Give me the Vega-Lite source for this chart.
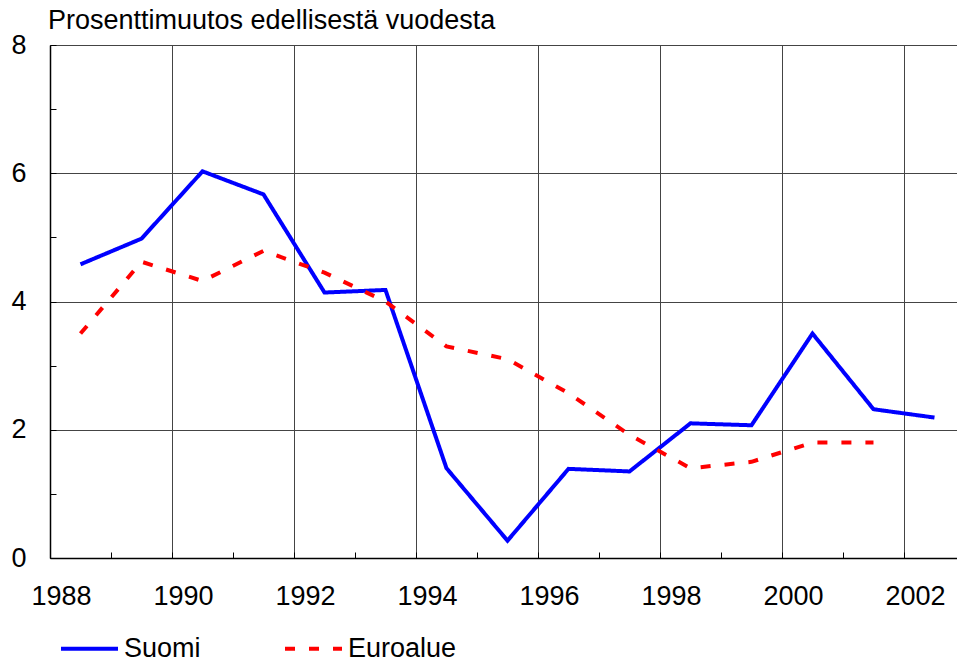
{
  "$schema": "https://vega.github.io/schema/vega-lite/v6.json",
  "width": 907,
  "height": 513,
  "autosize": {"type": "none"},
  "padding": {"left": 50, "top": 45, "right": 0, "bottom": 106},
  "background": "white",
  "config": {
    "view": {"stroke": null},
    "font": "Liberation Sans",
    "title": {"font": "Liberation Sans"},
    "axis": {"labelFont": "Liberation Sans"},
    "legend": {"labelFont": "Liberation Sans"}
  },
  "title": {
    "text": "Prosenttimuutos edellisestä vuodesta",
    "anchor": "start",
    "frame": "group",
    "fontSize": 27,
    "fontWeight": "normal",
    "color": "#000000",
    "baseline": "alphabetic",
    "offset": 0,
    "dy": 25,
    "dx": -2
  },
  "data": {
    "values": [
      {"year": 1988, "value": 4.58, "series": "Suomi"},
      {"year": 1989, "value": 4.98, "series": "Suomi"},
      {"year": 1990, "value": 6.03, "series": "Suomi"},
      {"year": 1991, "value": 5.67, "series": "Suomi"},
      {"year": 1992, "value": 4.14, "series": "Suomi"},
      {"year": 1993, "value": 4.18, "series": "Suomi"},
      {"year": 1994, "value": 1.40, "series": "Suomi"},
      {"year": 1995, "value": 0.27, "series": "Suomi"},
      {"year": 1996, "value": 1.39, "series": "Suomi"},
      {"year": 1997, "value": 1.35, "series": "Suomi"},
      {"year": 1998, "value": 2.10, "series": "Suomi"},
      {"year": 1999, "value": 2.07, "series": "Suomi"},
      {"year": 2000, "value": 3.50, "series": "Suomi"},
      {"year": 2001, "value": 2.32, "series": "Suomi"},
      {"year": 2002, "value": 2.19, "series": "Suomi"},
      {"year": 1988, "value": 3.5, "series": "Euroalue"},
      {"year": 1989, "value": 4.62, "series": "Euroalue"},
      {"year": 1990, "value": 4.32, "series": "Euroalue"},
      {"year": 1991, "value": 4.79, "series": "Euroalue"},
      {"year": 1992, "value": 4.45, "series": "Euroalue"},
      {"year": 1993, "value": 4.0, "series": "Euroalue"},
      {"year": 1994, "value": 3.3, "series": "Euroalue"},
      {"year": 1995, "value": 3.1, "series": "Euroalue"},
      {"year": 1996, "value": 2.57, "series": "Euroalue"},
      {"year": 1997, "value": 1.92, "series": "Euroalue"},
      {"year": 1998, "value": 1.4, "series": "Euroalue"},
      {"year": 1999, "value": 1.5, "series": "Euroalue"},
      {"year": 2000, "value": 1.8, "series": "Euroalue"},
      {"year": 2001, "value": 1.8, "series": "Euroalue"}
    ]
  },
  "mark": {"type": "line", "strokeWidth": 4, "strokeCap": "butt", "clip": true},
  "encoding": {
    "x": {
      "field": "year",
      "type": "quantitative",
      "scale": {"domain": [1987.5, 2002.369], "nice": false, "zero": false},
      "axis": {
        "title": null,
        "values": [1987.5, 1988.5, 1989.5, 1990.5, 1991.5, 1992.5, 1993.5, 1994.5, 1995.5, 1996.5, 1997.5, 1998.5, 1999.5, 2000.5, 2001.5],
        "grid": true,
        "gridColor": {"condition": {"test": "(datum.value - 1987.5) % 2 === 0", "value": "#444444"}, "value": "rgba(0,0,0,0)"},
        "gridWidth": 1,
        "labelExpr": "(datum.value - 1987.5) % 2 === 0 ? toString(datum.value + 0.5) : ''",
        "labelOffset": 11,
        "labelFontSize": 27,
        "labelColor": "#000000",
        "labelPadding": 31,
        "labelFlush": false,
        "labelOverlap": false,
        "tickSize": -6,
        "tickColor": "#000000",
        "domainColor": "#000000",
        "domainWidth": 1.5
      }
    },
    "y": {
      "field": "value",
      "type": "quantitative",
      "scale": {"domain": [0, 8], "nice": false, "zero": true},
      "axis": {
        "title": null,
        "values": [0, 1, 2, 3, 4, 5, 6, 7, 8],
        "grid": true,
        "gridColor": {"condition": {"test": "datum.value % 2 === 0", "value": "#444444"}, "value": "rgba(0,0,0,0)"},
        "gridWidth": 1,
        "labelExpr": "datum.value % 2 === 0 ? toString(datum.value) : ''",
        "labelFontSize": 27,
        "labelColor": "#000000",
        "labelPadding": 30,
        "labelFlush": false,
        "labelOverlap": false,
        "tickSize": -6,
        "tickColor": "#000000",
        "domainColor": "#000000",
        "domainWidth": 1.5
      }
    },
    "color": {
      "field": "series",
      "type": "nominal",
      "scale": {"domain": ["Suomi", "Euroalue"], "range": ["#0000FF", "#FF0000"]},
      "legend": {
        "title": null,
        "orient": "none",
        "direction": "horizontal",
        "legendX": 9,
        "legendY": 573,
        "padding": 0,
        "symbolType": "stroke",
        "symbolSize": 3249,
        "symbolStrokeWidth": 4,
        "labelFontSize": 27,
        "labelColor": "#000000",
        "labelOffset": 4,
        "columnPadding": 76
      }
    },
    "strokeDash": {
      "field": "series",
      "type": "nominal",
      "scale": {"domain": ["Suomi", "Euroalue"], "range": [[1, 0], [10, 14]]}
    }
  }
}
